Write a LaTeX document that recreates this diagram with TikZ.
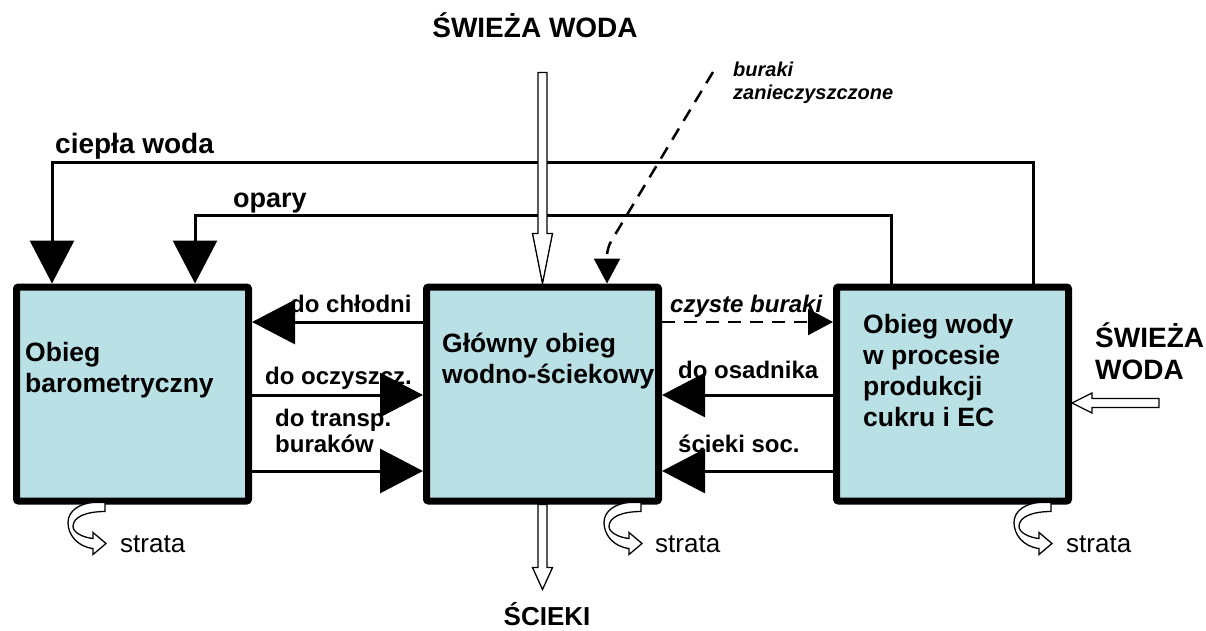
\documentclass[tikz,border=0pt]{standalone}
\usepackage{fontspec}
\setmainfont{Liberation Sans}
\usetikzlibrary{arrows.meta,positioning,calc}
\definecolor{boxfill}{RGB}{185,224,228}
\tikzset{
  obieg/.style={draw, line width=7pt, fill=boxfill, rounded corners=2pt,
    minimum width=232pt, minimum height=214pt, inner sep=0pt},
  boxtxt/.style={font=\fontsize{26.5}{31}\selectfont\bfseries, align=left,
    inner sep=0pt, anchor=base west},
  lbl/.style={font=\fontsize{24}{26}\selectfont\bfseries, align=left,
    inner sep=0pt, anchor=base west},
  title/.style={font=\fontsize{28}{32}\selectfont\bfseries, align=left,
    inner sep=0pt},
  flow/.style={line width=3pt},
  bigtip/.style={-{Triangle[width=44pt,length=43pt]}},
  smalltip/.style={-{Triangle[width=26pt,length=25pt]}},
  dashflow/.style={line width=2.5pt, dash pattern=on 13pt off 9pt},
  hollow/.style={line width=1.3pt, fill=white, line join=miter},
  pics/hollowarrow/.style 2 args={code={
    \draw[hollow] (0,0) -- (-#2,10) -- (-#2,4.5) -- (-#1,4.5) -- (-#1,-4.5)
      -- (-#2,-4.5) -- (-#2,-10) -- cycle;
  }},
  pics/strata/.style={code={
    \draw[hollow] (0,0) -- (0,9) .. controls (-18,9) and (-32,14) .. (-32,24)
      .. controls (-32,30) and (-22,35) .. (-12,36) -- (-12,30) -- (1,41)
      -- (-12,52) -- (-12,46) .. controls (-28,44) and (-37,32) .. (-37,20)
      .. controls (-37,8) and (-25,1) .. (-12,0) -- cycle;
  }},
}
\begin{document}
\begin{tikzpicture}[x=1pt, y=-1pt]
  \useasboundingbox (0,0) rectangle (1206,630);
  % the three circuits
  \node[obieg] (lbox) at (132.5,394) {};
  \node[obieg, right=171pt of lbox] (mbox) {};
  \node[obieg, right=171pt of mbox] (rbox) {};
  \node[boxtxt] (ltxt) at (25,392) {Obieg\\barometryczny};
  \node[boxtxt] (mtxt) at (442,383) {Główny obieg\\wodno-ściekowy};
  \node[boxtxt] (rtxt) at (863,426) {Obieg wody\\w procesie\\produkcji\\cukru i EC};

  % rows of the side connectors
  \coordinate (rowA) at (0,322);
  \coordinate (rowB) at (0,395);
  \coordinate (rowC) at (0,471);
  \draw[flow, bigtip] (mbox.west |- rowA) -- (lbox.east |- rowA);
  \draw[flow, bigtip] (lbox.east |- rowB) -- (mbox.west |- rowB);
  \draw[flow, bigtip] (lbox.east |- rowC) -- (mbox.west |- rowC);
  \draw[dashflow, smalltip] (mbox.east |- rowA) -- (rbox.west |- rowA);
  \draw[flow, bigtip] (rbox.west |- rowB) -- (mbox.east |- rowB);
  \draw[flow, bigtip] (rbox.west |- rowC) -- (mbox.east |- rowC);
  \node[lbl] (chl) at (290,312) {do chłodni};
  \node[lbl] (ocz) at (265,384) {do oczyszcz.};
  \node[lbl] (tra) at (275,452) {do transp.\\buraków};
  \node[lbl, font=\fontsize{24}{26}\selectfont\bfseries\itshape] (czy) at (670,312) {czyste buraki};
  \node[lbl] (osa) at (678,378) {do osadnika};
  \node[lbl] (soc) at (678,452) {ścieki soc.};

  % return lines over the top
  \coordinate (cwL) at (52,162);
  \coordinate (cwR) at (1033,162);
  \coordinate (opL) at (195,215);
  \coordinate (opR) at (891,215);
  \draw[flow, bigtip] (cwR |- rbox.north) -- (cwR) -- (cwL) -- (cwL |- lbox.north);
  \draw[flow, bigtip] (opR |- rbox.north) -- (opR) -- (opL) -- (opL |- lbox.north);
  \node[title, anchor=base west] (cw) at (55,153) {ciepła woda};
  \node[title, anchor=base west, font=\fontsize{27}{30}\selectfont\bfseries] (op) at (233,207) {opary};

  % dirty beets
  \coordinate (bz) at (713,72);
  \coordinate (bzk) at (607,248);
  \draw[dashflow, rounded corners=8pt, smalltip] (bz) -- (bzk) -- (bzk |- mbox.north);
  \node[lbl, font=\fontsize{20}{22.5}\selectfont\bfseries\itshape] (bzl) at (733,99) {buraki\\zanieczyszczone};

  % fresh water and waste water
  \node[title, anchor=base] (swtop) at (535,37) {ŚWIEŻA WODA};
  \node[title, anchor=base west] (swright) at (1095,379) {ŚWIEŻA\\WODA};
  \node[title, anchor=base, font=\fontsize{26}{30}\selectfont\bfseries] (scieki) at (547,625) {ŚCIEKI};
  \pic[rotate=-90] at (mbox.north) {hollowarrow={211}{50}};
  \pic[rotate=-90] at ($(mbox.south)+(0,85)$) {hollowarrow={85}{22}};
  \pic[rotate=180] at ($(rbox.east)+(0,9)$) {hollowarrow={87}{20}};

  % losses
  \pic at ($(lbox.south west)+(92,-2)$) {strata};
  \pic at ($(mbox.south east)+(-21,-2)$) {strata};
  \pic at ($(rbox.south east)+(-21,-2)$) {strata};
  \node[lbl, font=\fontsize{26}{30}\selectfont] (strL) at (120,552) {strata};
  \node[lbl, font=\fontsize{26}{30}\selectfont] (strM) at (655,552) {strata};
  \node[lbl, font=\fontsize{26}{30}\selectfont] (strR) at (1066,552) {strata};
\end{tikzpicture}
\end{document}
